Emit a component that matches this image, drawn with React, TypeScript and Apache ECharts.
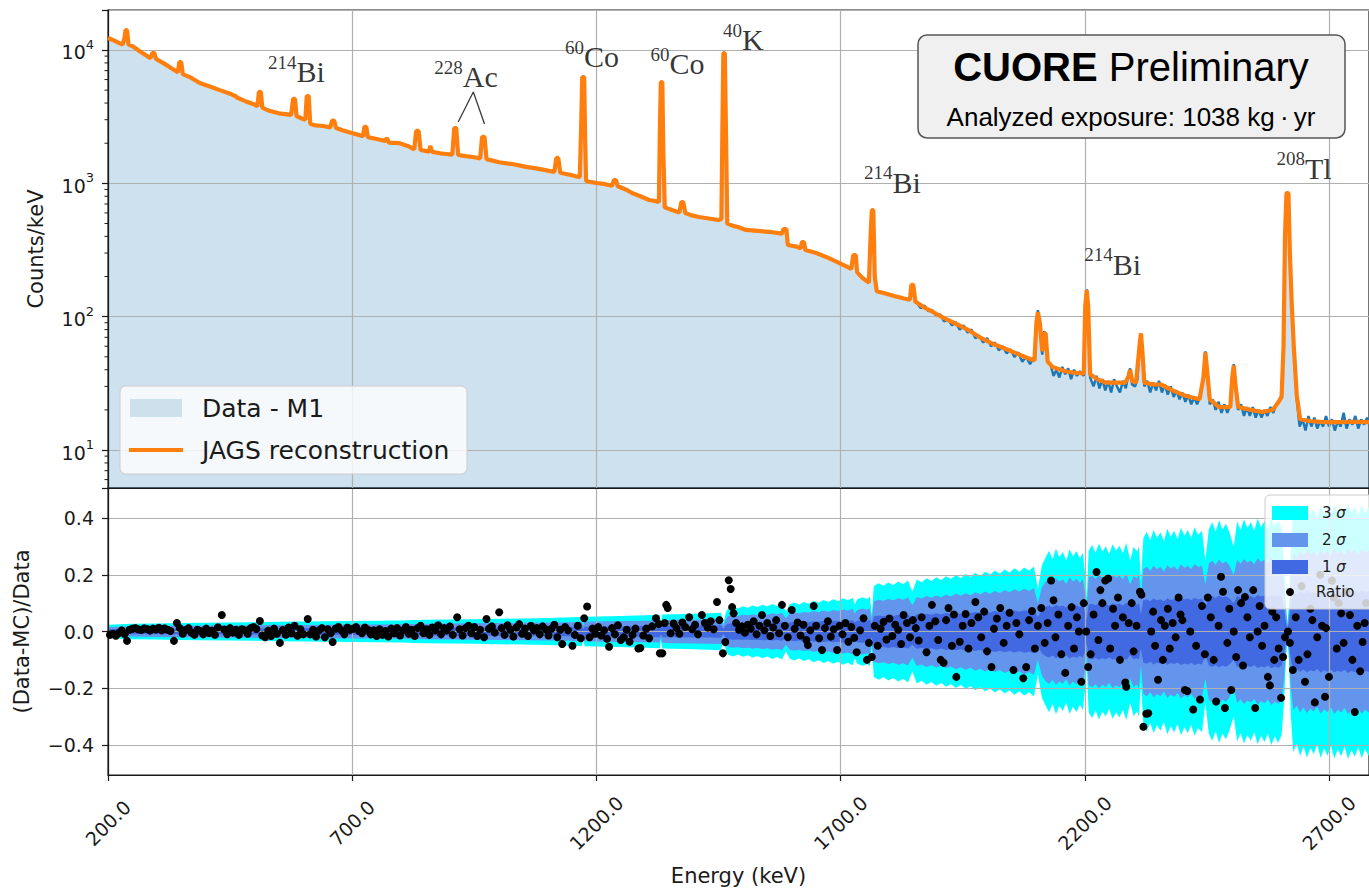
import React, { useEffect, useRef } from 'react';
import * as echarts from 'echarts';

const X_MIN = 200;
const X_MAX = 2782;
const xTicks = [200, 700, 1200, 1700, 2200, 2700];
const ratioTicks = [-0.4, -0.2, 0, 0.2, 0.4];
const logMinorTicks = [6, 7, 8, 9, 20, 30, 40, 50, 60, 70, 80, 90, 200, 300, 400, 500, 600, 700, 800, 900, 2000, 3000, 4000, 5000, 6000, 7000, 8000, 9000];

// shared part of spectrum (data and reconstruction overlap here) [keV, counts/keV]
const spectrumLow: [number, number][] = [
  [200, 12300], [210, 11900], [222, 11300], [230, 11000], [234, 12400], [236, 14100], [239, 14100], [242, 11000], [250, 10700],
  [265, 9800], [280, 9000], [287, 8700], [291, 9500], [295, 9500], [298, 8600], [315, 7900], [330, 7300], [343, 6800], [346, 8100],
  [350, 8100], [353, 6600], [370, 6200], [388, 5650], [410, 5300], [429, 5000], [450, 4700], [458, 4550], [461, 4520], [464, 4400],
  [480, 4150], [500, 3900], [506, 3780], [509, 4850], [513, 4850], [516, 3700], [530, 3500], [550, 3350], [575, 3260], [579, 4300],
  [583, 4300], [586, 3200], [598, 3050], [604, 3000], [607, 4520], [611, 4520], [614, 2800], [625, 2720], [640, 2690], [655, 2630],
  [659, 2960], [663, 2960], [667, 2600], [680, 2500], [699, 2385], [715, 2300], [722, 2250], [725, 2650], [729, 2650], [732, 2220],
  [750, 2150], [768, 2080], [771, 2190], [775, 2020], [797, 2000], [815, 1900], [827, 1800], [831, 2470], [836, 2470], [840, 1780],
  [850, 1750], [857, 1730], [860, 1900], [864, 1720], [880, 1680], [893, 1660], [905, 1640], [909, 2600], [913, 2600], [917, 1630],
  [933, 1600], [950, 1570], [962, 1540], [966, 2230], [971, 2230], [975, 1520], [1001, 1440], [1030, 1390], [1056, 1330], [1080, 1290],
  [1103, 1240], [1114, 1220], [1118, 1550], [1122, 1550], [1126, 1200], [1150, 1150], [1166, 1110], [1169, 2800], [1171, 6270],
  [1175, 6270], [1177, 2100], [1179, 1040], [1190, 1020], [1200, 1006], [1215, 990], [1232, 960], [1236, 1059], [1240, 1059],
  [1244, 950], [1260, 900], [1273, 846], [1290, 800], [1308, 750], [1322, 735], [1328, 724], [1330, 2500], [1332, 5750], [1335, 5750],
  [1337, 1800], [1340, 660], [1355, 630], [1370, 605], [1374, 724], [1378, 724], [1382, 600], [1395, 575], [1410, 559], [1430, 545],
  [1450, 531], [1456, 540], [1458, 2500], [1460, 9490], [1463, 9490], [1465, 3000], [1468, 500], [1480, 480], [1490, 470], [1506, 447],
  [1530, 440], [1560, 430], [1580, 420], [1583, 454], [1589, 454], [1592, 345], [1610, 335], [1618, 325], [1621, 363], [1625, 363],
  [1628, 316], [1650, 300], [1676, 275], [1700, 250], [1722, 228], [1726, 290], [1731, 290], [1734, 215], [1745, 195], [1758, 180],
  [1762, 450], [1764, 631], [1767, 631], [1770, 200], [1774, 155], [1790, 150], [1810, 143], [1830, 137], [1842, 134], [1845, 173],
  [1849, 173],
];

const modelHigh: [number, number][] = [
  [1853, 130], [1870, 118], [1890, 108], [1911, 98], [1940, 87], [1960, 80], [1985, 70], [2010, 63], [2035, 58], [2060, 53],
  [2083, 49], [2097, 47], [2101, 90], [2104, 108], [2108, 90], [2113, 55], [2117, 75], [2120, 75], [2124, 46], [2134, 42],
  [2160, 39], [2178, 38], [2198, 37.5], [2201, 120], [2204, 158], [2207, 120], [2211, 37], [2225, 34], [2244, 32], [2265, 32],
  [2283, 32], [2290, 36], [2293, 40], [2297, 33], [2305, 32], [2312, 60], [2315, 75], [2318, 55], [2322, 32], [2340, 31],
  [2356, 31], [2380, 28], [2400, 26], [2416, 25], [2435, 24], [2443, 35], [2447, 54], [2451, 38], [2456, 24], [2475, 21],
  [2498, 21], [2502, 35], [2505, 43], [2509, 30], [2514, 21], [2540, 20], [2563, 19.3], [2585, 20], [2597, 23], [2603, 25],
  [2607, 60], [2610, 400], [2613, 846], [2617, 846], [2620, 300], [2624, 120], [2628, 60], [2634, 26], [2641, 17], [2660, 16.5],
  [2690, 16.2], [2720, 16.2], [2750, 16.3], [2782, 16.2],
];

const dataHigh: [number, number][] = [
  [1853, 130], [1856, 128], [1864, 116], [1872, 121], [1880, 110], [1888, 112], [1896, 101], [1904, 104], [1912, 92], [1920, 96],
  [1928, 86], [1936, 91], [1944, 80], [1952, 86], [1960, 76], [1968, 80], [1976, 69], [1984, 72], [1992, 64], [2000, 69],
  [2008, 60], [2016, 64], [2024, 56], [2032, 60], [2040, 53], [2048, 57], [2056, 50], [2064, 54], [2072, 46], [2080, 50],
  [2088, 44], [2094, 48], [2098, 48], [2101, 92], [2104, 112], [2108, 88], [2113, 52], [2117, 78], [2120, 72], [2124, 46],
  [2130, 44], [2136, 36], [2142, 40], [2148, 35], [2154, 42], [2160, 37], [2166, 41], [2172, 34], [2178, 40], [2184, 36],
  [2190, 39], [2198, 36], [2201, 118], [2204, 160], [2207, 122], [2211, 35], [2218, 30], [2224, 36], [2230, 29], [2236, 34],
  [2242, 28], [2248, 33], [2254, 27], [2260, 34], [2266, 30], [2272, 27], [2278, 33], [2284, 29], [2290, 38], [2293, 41],
  [2297, 31], [2303, 30], [2308, 34], [2312, 62], [2315, 74], [2318, 56], [2322, 30], [2328, 33], [2334, 27], [2340, 32],
  [2346, 28], [2352, 33], [2358, 27], [2364, 31], [2370, 26], [2376, 30], [2382, 25], [2388, 28], [2394, 24], [2400, 27],
  [2406, 23], [2412, 26], [2418, 22], [2424, 25], [2430, 22], [2436, 25], [2443, 34], [2447, 55], [2451, 37], [2456, 22],
  [2462, 24], [2468, 20], [2474, 23], [2480, 19], [2486, 22], [2492, 19], [2498, 22], [2502, 34], [2505, 44], [2509, 29],
  [2514, 20], [2520, 22], [2526, 18], [2532, 21], [2538, 18], [2544, 21], [2550, 17.5], [2556, 20], [2562, 17.5], [2568, 20],
  [2574, 18], [2580, 21], [2586, 19], [2592, 22], [2597, 23], [2603, 26], [2607, 62], [2610, 410], [2613, 860], [2617, 840],
  [2620, 310], [2624, 115], [2628, 58], [2634, 24], [2640, 15], [2646, 17], [2652, 14], [2658, 18], [2664, 15], [2670, 17.5],
  [2676, 14.5], [2682, 16.5], [2688, 15], [2694, 18], [2700, 15], [2706, 17], [2712, 14], [2718, 16.5], [2724, 15], [2730, 19],
  [2736, 14.5], [2742, 17], [2748, 15.5], [2754, 18], [2760, 14.5], [2766, 17], [2772, 15.5], [2778, 17.5], [2782, 16],
];

// band half-widths: [keV, 3 sigma, 2 sigma, 1 sigma]
const bandRows: [number, number, number, number][] = [
  [200, 0.024, 0.016, 0.008], [250, 0.027, 0.018, 0.009], [300, 0.028, 0.019, 0.009], [350, 0.030, 0.020, 0.010],
  [400, 0.031, 0.021, 0.010], [450, 0.032, 0.021, 0.011], [500, 0.033, 0.022, 0.011], [550, 0.034, 0.023, 0.011],
  [600, 0.035, 0.023, 0.012], [650, 0.036, 0.024, 0.012], [700, 0.037, 0.025, 0.012], [750, 0.038, 0.025, 0.013],
  [800, 0.039, 0.026, 0.013], [850, 0.041, 0.027, 0.014], [900, 0.042, 0.028, 0.014], [950, 0.043, 0.029, 0.014],
  [1000, 0.045, 0.030, 0.015], [1050, 0.046, 0.031, 0.015], [1100, 0.048, 0.032, 0.016], [1150, 0.050, 0.033, 0.017],
  [1170, 0.051, 0.034, 0.017], [1173, 0.030, 0.020, 0.010], [1176, 0.052, 0.035, 0.017], [1200, 0.053, 0.035, 0.018],
  [1250, 0.055, 0.037, 0.018], [1300, 0.057, 0.038, 0.019], [1330, 0.059, 0.039, 0.020], [1332, 0.030, 0.020, 0.010],
  [1335, 0.060, 0.040, 0.020], [1360, 0.061, 0.041, 0.020], [1400, 0.063, 0.042, 0.021], [1430, 0.064, 0.043, 0.021],
  [1455, 0.066, 0.044, 0.022], [1460, 0.030, 0.020, 0.010], [1465, 0.066, 0.044, 0.022],
  [1470, 0.082, 0.055, 0.027], [1480, 0.088, 0.057, 0.029], [1490, 0.081, 0.055, 0.028], [1500, 0.089, 0.059, 0.029],
  [1510, 0.084, 0.057, 0.028], [1520, 0.092, 0.060, 0.030], [1530, 0.086, 0.058, 0.029], [1540, 0.094, 0.062, 0.031],
  [1550, 0.088, 0.059, 0.030], [1560, 0.097, 0.064, 0.032], [1570, 0.090, 0.061, 0.030], [1580, 0.099, 0.066, 0.033],
  [1588, 0.070, 0.047, 0.023], [1596, 0.096, 0.064, 0.032], [1605, 0.102, 0.068, 0.034], [1615, 0.095, 0.064, 0.032],
  [1625, 0.104, 0.069, 0.035], [1635, 0.098, 0.066, 0.033], [1645, 0.108, 0.072, 0.036], [1655, 0.101, 0.068, 0.034],
  [1665, 0.111, 0.074, 0.037], [1675, 0.104, 0.070, 0.035], [1685, 0.114, 0.076, 0.038], [1695, 0.107, 0.072, 0.036],
  [1705, 0.117, 0.078, 0.039], [1715, 0.110, 0.074, 0.037], [1725, 0.119, 0.080, 0.040], [1729, 0.095, 0.063, 0.032],
  [1734, 0.114, 0.076, 0.038], [1745, 0.121, 0.081, 0.040], [1755, 0.115, 0.077, 0.038], [1760, 0.123, 0.082, 0.041],
  [1764, 0.060, 0.040, 0.020], [1768, 0.160, 0.107, 0.053],
  [1778, 0.170, 0.112, 0.056], [1788, 0.161, 0.108, 0.054], [1798, 0.173, 0.115, 0.058], [1808, 0.164, 0.110, 0.055],
  [1818, 0.176, 0.117, 0.059], [1828, 0.167, 0.112, 0.056], [1838, 0.180, 0.120, 0.060], [1847, 0.140, 0.093, 0.047],
  [1856, 0.183, 0.122, 0.061], [1866, 0.174, 0.116, 0.058], [1876, 0.188, 0.125, 0.063], [1886, 0.178, 0.119, 0.059],
  [1896, 0.191, 0.127, 0.064], [1906, 0.181, 0.121, 0.060], [1916, 0.195, 0.130, 0.065], [1926, 0.185, 0.123, 0.062],
  [1936, 0.199, 0.133, 0.066], [1946, 0.188, 0.126, 0.063], [1956, 0.203, 0.135, 0.068], [1966, 0.192, 0.128, 0.064],
  [1976, 0.207, 0.138, 0.069], [1986, 0.196, 0.131, 0.065], [1996, 0.211, 0.141, 0.070], [2006, 0.200, 0.133, 0.067],
  [2016, 0.215, 0.143, 0.072], [2026, 0.204, 0.136, 0.068], [2036, 0.219, 0.146, 0.073], [2046, 0.207, 0.138, 0.069],
  [2056, 0.223, 0.149, 0.074], [2066, 0.211, 0.141, 0.070], [2076, 0.226, 0.151, 0.075], [2086, 0.214, 0.143, 0.071],
  [2096, 0.229, 0.153, 0.076], [2104, 0.150, 0.100, 0.050], [2112, 0.232, 0.155, 0.077],
  [2120, 0.262, 0.175, 0.087], [2127, 0.285, 0.185, 0.092], [2134, 0.255, 0.170, 0.085], [2141, 0.292, 0.188, 0.094],
  [2148, 0.262, 0.176, 0.088], [2155, 0.280, 0.184, 0.092], [2162, 0.250, 0.168, 0.084], [2169, 0.290, 0.190, 0.095],
  [2176, 0.265, 0.176, 0.088], [2183, 0.284, 0.186, 0.093], [2190, 0.258, 0.172, 0.086], [2196, 0.278, 0.184, 0.092],
  [2201, 0.200, 0.133, 0.067], [2204, 0.120, 0.080, 0.040], [2208, 0.285, 0.190, 0.095],
  [2215, 0.305, 0.196, 0.098], [2222, 0.278, 0.186, 0.093], [2229, 0.310, 0.200, 0.100], [2236, 0.282, 0.188, 0.094],
  [2243, 0.300, 0.196, 0.098], [2250, 0.272, 0.182, 0.091], [2257, 0.308, 0.200, 0.100], [2264, 0.285, 0.190, 0.095],
  [2271, 0.302, 0.197, 0.099], [2278, 0.276, 0.184, 0.092], [2285, 0.312, 0.203, 0.101], [2293, 0.250, 0.167, 0.083],
  [2300, 0.298, 0.195, 0.098], [2307, 0.282, 0.188, 0.094], [2311, 0.300, 0.200, 0.100], [2315, 0.180, 0.120, 0.060],
  [2320, 0.330, 0.220, 0.110],
  [2327, 0.352, 0.228, 0.114], [2334, 0.322, 0.214, 0.107], [2341, 0.358, 0.232, 0.116], [2348, 0.330, 0.220, 0.110],
  [2355, 0.350, 0.228, 0.114], [2362, 0.318, 0.212, 0.106], [2369, 0.362, 0.234, 0.117], [2376, 0.334, 0.222, 0.111],
  [2383, 0.355, 0.230, 0.115], [2390, 0.326, 0.217, 0.109], [2397, 0.366, 0.237, 0.118], [2404, 0.338, 0.225, 0.113],
  [2411, 0.358, 0.232, 0.116], [2418, 0.330, 0.220, 0.110], [2425, 0.368, 0.238, 0.119], [2432, 0.340, 0.227, 0.113],
  [2440, 0.355, 0.232, 0.116], [2447, 0.250, 0.167, 0.083], [2454, 0.360, 0.240, 0.120],
  [2461, 0.385, 0.250, 0.125], [2468, 0.352, 0.235, 0.118], [2475, 0.392, 0.254, 0.127], [2482, 0.360, 0.240, 0.120],
  [2489, 0.380, 0.248, 0.124], [2496, 0.350, 0.234, 0.117], [2505, 0.300, 0.200, 0.100], [2512, 0.388, 0.252, 0.126],
  [2519, 0.358, 0.239, 0.119], [2526, 0.395, 0.256, 0.128], [2533, 0.365, 0.243, 0.122], [2540, 0.385, 0.250, 0.125],
  [2547, 0.355, 0.237, 0.118], [2554, 0.398, 0.258, 0.129], [2561, 0.368, 0.245, 0.123], [2568, 0.390, 0.253, 0.127],
  [2575, 0.360, 0.240, 0.120], [2582, 0.400, 0.260, 0.130], [2589, 0.370, 0.247, 0.123], [2596, 0.392, 0.255, 0.128],
  [2603, 0.365, 0.243, 0.122], [2608, 0.250, 0.167, 0.083], [2612, 0.100, 0.067, 0.033], [2615, 0.030, 0.020, 0.010],
  [2618, 0.100, 0.067, 0.033], [2622, 0.300, 0.200, 0.100],
  [2627, 0.425, 0.275, 0.137], [2634, 0.395, 0.262, 0.131], [2641, 0.438, 0.285, 0.142], [2648, 0.405, 0.268, 0.134],
  [2655, 0.445, 0.288, 0.144], [2662, 0.410, 0.272, 0.136], [2669, 0.432, 0.282, 0.141], [2676, 0.398, 0.265, 0.132],
  [2683, 0.446, 0.290, 0.145], [2690, 0.412, 0.274, 0.137], [2697, 0.438, 0.285, 0.142], [2704, 0.402, 0.268, 0.134],
  [2711, 0.448, 0.291, 0.145], [2718, 0.415, 0.276, 0.138], [2725, 0.440, 0.286, 0.143], [2732, 0.405, 0.270, 0.135],
  [2739, 0.450, 0.292, 0.146], [2746, 0.418, 0.278, 0.139], [2753, 0.442, 0.287, 0.143], [2760, 0.408, 0.272, 0.136],
  [2767, 0.446, 0.290, 0.145], [2774, 0.414, 0.276, 0.138], [2782, 0.440, 0.286, 0.143],
];

// (Data-MC)/Data points [keV, ratio]
const ratioPoints: [number, number][] = [
  [204, -0.012], [210, -0.008], [216, -0.015], [222, -0.005], [228, 0.004], [234, -0.01], [239, -0.033], [244, 0.006], [250, 0.01],
  [256, 0.012], [262, 0.008], [268, 0.005], [274, 0.011], [280, 0.009], [286, 0.003], [292, 0.01], [298, 0.007], [304, 0.013],
  [310, 0.004], [316, 0.011], [322, 0.006], [328, 0.002], [335, -0.033], [341, 0.03], [347, 0.012], [353, -0.008], [359, 0.005],
  [365, 0.012], [371, -0.004], [377, -0.012], [383, 0.006], [389, 0.002], [395, -0.01], [401, 0.01], [407, -0.005], [413, 0.003],
  [419, -0.012], [425, 0.015], [433, 0.058], [438, 0.007], [444, -0.01], [450, 0.012], [456, -0.004], [462, 0.006], [468, -0.012],
  [474, 0.008], [480, 0.004], [486, -0.008], [492, 0.012], [498, 0.016], [504, 0.009], [511, 0.037], [516, -0.014], [522, -0.02],
  [528, 0.003], [534, -0.016], [540, 0.01], [546, -0.008], [552, -0.04], [558, 0.005], [564, -0.012], [570, 0.014], [576, -0.006],
  [582, 0.02], [588, -0.015], [594, 0.008], [600, -0.01], [609, 0.044], [614, -0.01], [620, 0.006], [626, -0.018], [632, 0.004],
  [638, 0.012], [644, -0.02], [650, 0.008], [656, -0.006], [660, -0.037], [666, 0.01], [672, 0.016], [678, 0.004], [684, -0.01],
  [690, 0.014], [696, 0.006], [702, 0.01], [708, 0.016], [714, 0.002], [720, -0.006], [726, 0.014], [732, 0.006], [738, -0.01],
  [744, 0.004], [750, -0.016], [756, 0.008], [762, -0.012], [768, 0.002], [774, -0.018], [780, 0.01], [786, -0.006], [792, 0.012],
  [798, -0.014], [804, 0.004], [810, 0.016], [816, -0.008], [822, 0.006], [828, -0.016], [834, 0.012], [840, 0.02], [846, -0.006],
  [852, 0.008], [858, -0.012], [864, 0.014], [870, 0.004], [876, 0.022], [882, -0.01], [888, 0.012], [894, 0.004], [900, 0.018],
  [906, -0.012], [915, 0.05], [920, 0.008], [926, -0.014], [932, 0.012], [938, 0.02], [944, -0.006], [950, 0.016], [956, -0.016],
  [962, 0.006], [970, -0.02], [975, 0.044], [980, 0.01], [986, 0.018], [992, -0.004], [1001, 0.068], [1006, 0.012], [1012, -0.012],
  [1018, 0.022], [1024, 0.006], [1030, -0.018], [1036, 0.014], [1042, 0.026], [1048, -0.008], [1054, 0.01], [1060, -0.016],
  [1066, 0.02], [1072, 0.004], [1078, 0.012], [1084, -0.01], [1090, 0.018], [1096, 0.008], [1102, -0.014], [1108, 0.01],
  [1114, 0.024], [1120, -0.02], [1126, 0.006], [1130, -0.044], [1136, 0.016], [1142, 0.004], [1151, -0.05], [1156, -0.012],
  [1162, 0.02], [1168, -0.024], [1175, 0.047], [1181, 0.088], [1186, -0.02], [1192, 0.01], [1198, -0.008],
  [1204, 0.016], [1210, -0.014], [1216, 0.004], [1222, -0.026], [1226, -0.054], [1232, 0.012], [1238, -0.01], [1244, 0.022],
  [1250, -0.03], [1256, -0.02], [1262, 0.006], [1268, -0.036], [1274, -0.012], [1280, 0.01], [1286, -0.06], [1290, -0.058],
  [1296, -0.014], [1302, 0.01], [1308, -0.024], [1314, 0.018], [1322, 0.047], [1328, 0.026], [1330, -0.077], [1335, -0.077],
  [1340, 0.03], [1343, 0.094], [1346, 0.083], [1352, -0.006], [1358, 0.028], [1364, 0.012], [1370, -0.008], [1376, 0.032],
  [1382, 0.016], [1390, 0.05], [1396, 0.008], [1402, 0.024], [1408, -0.01], [1416, 0.058], [1422, 0.03], [1428, 0.014],
  [1434, 0.036], [1440, 0.008], [1447, 0.104], [1452, 0.04], [1459, -0.077], [1464, -0.037], [1471, 0.181], [1475, 0.15],
  [1478, 0.086], [1481, 0.064], [1486, 0.03], [1492, 0.006], [1498, 0.018],
  [1504, -0.004], [1510, 0.024], [1516, 0.01], [1522, 0.036], [1528, -0.01], [1534, 0.02], [1539, 0.058], [1544, 0.004],
  [1550, 0.03], [1556, -0.016], [1562, 0.014], [1568, 0.04], [1574, -0.006], [1580, 0.094], [1586, 0.02], [1592, -0.02],
  [1600, 0.076], [1606, 0.01], [1612, 0.032], [1618, -0.014], [1624, 0.024], [1630, -0.03], [1633, -0.048], [1638, 0.004],
  [1645, 0.09], [1650, 0.02], [1656, -0.024], [1662, -0.065], [1668, 0.012], [1674, 0.036], [1680, -0.018], [1686, 0.008],
  [1693, -0.065], [1698, 0.02], [1704, -0.01], [1710, 0.03], [1716, -0.036], [1722, 0.016], [1728, -0.022], [1733, -0.073],
  [1740, 0.004], [1747, 0.047], [1754, -0.1], [1758, -0.04], [1764, -0.09], [1770, 0.02], [1776, -0.05], [1782, 0.01],
  [1788, 0.034], [1794, -0.028],
  [1800, 0.046], [1806, -0.016], [1812, 0.024], [1818, 0.006], [1824, -0.044], [1829, 0.058], [1836, 0.03], [1842, -0.02],
  [1848, 0.04], [1854, 0.012], [1860, -0.032], [1866, 0.05], [1876, -0.073], [1882, 0.02], [1887, 0.094], [1894, 0.036],
  [1900, -0.03], [1905, -0.1], [1911, -0.11], [1916, 0.04], [1921, 0.083], [1928, -0.05], [1932, 0.06], [1937, -0.16],
  [1944, -0.036], [1950, 0.02], [1956, 0.062], [1962, -0.06], [1968, 0.03], [1976, 0.104], [1982, 0.05], [1988, -0.02],
  [1994, 0.07], [2000, -0.07], [2009, -0.125], [2014, 0.01], [2020, 0.046], [2027, 0.083], [2034, -0.04], [2040, 0.02],
  [2046, 0.066], [2054, -0.136], [2060, 0.03], [2066, -0.01], [2074, -0.165], [2080, -0.125], [2086, 0.04], [2092, 0.072],
  [2098, -0.06], [2104, 0.02],
  [2111, 0.083], [2118, -0.04], [2124, 0.03], [2131, 0.18], [2136, 0.11], [2140, -0.02], [2146, 0.06], [2152, -0.08],
  [2160, -0.146], [2166, 0.02], [2173, 0.086], [2178, -0.06], [2184, 0.05], [2188, 0.0], [2193, -0.177], [2198, 0.1],
  [2203, 0.0], [2207, -0.125], [2212, -0.08], [2218, 0.06], [2224, 0.21], [2228, -0.03], [2232, 0.146], [2236, 0.1],
  [2242, 0.18], [2248, 0.187], [2252, -0.06], [2258, 0.08], [2262, 0.02], [2268, 0.12], [2272, -0.1], [2278, 0.05],
  [2283, -0.18], [2285, -0.195], [2290, 0.03], [2296, 0.1], [2300, -0.07], [2306, 0.02], [2313, 0.14], [2316, 0.13],
  [2320, -0.336], [2326, -0.29], [2330, -0.288], [2336, 0.0], [2340, 0.07], [2344, -0.05], [2350, -0.17], [2356, 0.04],
  [2360, -0.1], [2364, 0.02], [2370, 0.08], [2374, -0.06], [2380, 0.03], [2386, -0.02], [2392, 0.12], [2396, 0.06],
  [2400, 0.04], [2405, -0.206], [2410, -0.21], [2416, 0.0], [2422, -0.275], [2428, -0.05], [2436, -0.24], [2440, 0.09],
  [2446, -0.08], [2452, 0.12], [2458, 0.05], [2464, -0.1], [2469, -0.247], [2474, 0.02], [2479, 0.193], [2483, 0.14],
  [2487, -0.27], [2492, -0.04], [2496, 0.08], [2500, -0.206], [2505, 0.0], [2510, -0.09], [2514, 0.146], [2520, 0.1],
  [2524, -0.12], [2528, 0.122], [2533, 0.05], [2538, -0.02], [2545, 0.146], [2549, -0.27], [2554, 0.0], [2558, 0.09],
  [2563, -0.05], [2568, 0.02], [2575, -0.16], [2579, -0.19], [2584, 0.07], [2588, -0.1], [2592, 0.05], [2597, -0.06],
  [2602, -0.234], [2606, -0.09], [2610, -0.02], [2616, 0.0], [2620, -0.04], [2626, -0.136], [2632, 0.05], [2638, -0.1],
  [2644, 0.16], [2651, -0.177], [2656, -0.08], [2662, 0.08], [2666, 0.04], [2671, -0.25], [2676, -0.02], [2682, 0.2],
  [2686, 0.02], [2692, -0.23], [2694, 0.012], [2700, -0.16], [2706, 0.18], [2710, 0.12], [2716, -0.06], [2720, 0.1],
  [2725, 0.064], [2730, -0.04], [2736, 0.14], [2743, 0.058], [2748, -0.1], [2753, -0.284], [2758, 0.02], [2764, -0.14],
  [2769, -0.037], [2773, 0.03], [2776, 0.1],
];

// isotope annotations (position in data coordinates)
const peakLabels = [
  { mass: '214', el: 'Bi', e: 586, c: 7079 },
  { mass: '228', el: 'Ac', e: 933, c: 6494 },
  { mass: '60', el: 'Co', e: 1191, c: 9173 },
  { mass: '60', el: 'Co', e: 1366, c: 8128 },
  { mass: '40', el: 'K', e: 1501, c: 12303 },
  { mass: '214', el: 'Bi', e: 1806, c: 1059 },
  { mass: '214', el: 'Bi', e: 2257, c: 257 },
  { mass: '208', el: 'Tl', e: 2649, c: 1349 },
];
const acPointer: [number, number][] = [[917, 2884], [948, 4842], [971, 2786]];

const SANS = 'DejaVu Sans';
const TXT = '#1a1a1a';
const GRIDC = '#b0b0b0';

function leftText(x: number, y: number, text: string, size: number, extra: any = {}) {
  return {
    type: 'text', x, y, z: 101,
    style: { text, fontSize: size, fontFamily: SANS, fill: TXT, align: 'left', verticalAlign: 'middle', textAlign: 'left', textVerticalAlign: 'middle', ...extra },
  };
}

function buildOption() {
  const dataSeries = [...spectrumLow, ...dataHigh];
  const modelSeries = [...spectrumLow, ...modelHigh];
  const bandColors = ['#00ffff', '#6495ed', '#4169e1'];
  const bandSeries: any[] = [];
  [1, 2, 3].forEach((col, k) => {
    [1, -1].forEach((sgn) => {
      bandSeries.push({
        type: 'line', xAxisIndex: 1, yAxisIndex: 1, z: 2, silent: true, symbol: 'none',
        data: bandRows.map((r) => [r[0], sgn * r[col]]),
        lineStyle: { width: 0 },
        areaStyle: { color: bandColors[k], opacity: 1 },
      });
    });
  });

  const axisLineStyle = { color: TXT, width: 1.2 };
  const sigmaRows: [string, number][] = [['3', 513], ['2', 540], ['1', 567]];
  return {
    animation: false,
    backgroundColor: '#ffffff',
    grid: [
      { left: 108, right: -3, top: 10, height: 478, show: true, borderColor: TXT, borderWidth: 1.2 },
      { left: 108, right: -3, top: 488, height: 287, show: true, borderColor: TXT, borderWidth: 1.2 },
    ],
    xAxis: [
      {
        type: 'value', gridIndex: 0, min: X_MIN, max: X_MAX, z: 3,
        axisLine: { show: true, onZero: false, lineStyle: axisLineStyle },
        axisTick: { show: false, customValues: xTicks },
        axisLabel: { show: false, customValues: xTicks },
        splitLine: { show: true, lineStyle: { color: GRIDC, width: 1.2 } },
      },
      {
        type: 'value', gridIndex: 1, min: X_MIN, max: X_MAX, z: 3,
        axisLine: { show: true, onZero: false, lineStyle: axisLineStyle },
        axisTick: { show: true, customValues: xTicks, length: 6, lineStyle: axisLineStyle },
        axisLabel: {
          customValues: xTicks, formatter: (v: number) => v.toFixed(1), rotate: 45, align: 'center', verticalAlign: 'middle',
          margin: 48, fontSize: 19, fontFamily: SANS, color: TXT,
        },
        splitLine: { show: true, lineStyle: { color: GRIDC, width: 1.2 } },
        name: 'Energy (keV)', nameLocation: 'middle', nameGap: 90,
        nameTextStyle: { fontSize: 21, fontFamily: SANS, color: TXT },
      },
    ],
    yAxis: [
      {
        type: 'log', gridIndex: 0, min: 5.19, max: 19950, logBase: 10, z: 3,
        axisLine: { show: true, onZero: false, lineStyle: axisLineStyle },
        axisTick: { show: true, length: 6, lineStyle: axisLineStyle },
        axisLabel: {
          fontSize: 19, fontFamily: SANS, color: TXT, margin: 14,
          formatter: (v: number) => {
            const l = Math.log10(v);
            const e = Math.round(l);
            if (Math.abs(l - e) > 1e-6) return '';
            return `{b|10}{s|${e}}`;
          },
          rich: {
            b: { fontSize: 19, fontFamily: SANS, color: TXT, verticalAlign: 'bottom', lineHeight: 24 },
            s: { fontSize: 13, fontFamily: SANS, color: TXT, verticalAlign: 'top', lineHeight: 13 },
          },
        },
        splitLine: { show: true, lineStyle: { color: GRIDC, width: 1.2 } },
        name: 'Counts/keV', nameLocation: 'middle', nameGap: 62,
        nameTextStyle: { fontSize: 21, fontFamily: SANS, color: TXT },
      },
      {
        type: 'value', gridIndex: 1, min: -0.506, max: 0.506, z: 3,
        axisLine: { show: true, onZero: false, lineStyle: axisLineStyle },
        axisTick: { show: true, customValues: ratioTicks, length: 6, lineStyle: axisLineStyle },
        axisLabel: {
          customValues: ratioTicks, fontSize: 19, fontFamily: SANS, color: TXT, margin: 14,
          formatter: (v: number) => (v < -1e-9 ? '\u2212' : '') + Math.abs(v).toFixed(1),
        },
        splitLine: { show: true, lineStyle: { color: GRIDC, width: 1.2 } },
        name: '(Data-MC)/Data', nameLocation: 'middle', nameGap: 76,
        nameTextStyle: { fontSize: 21, fontFamily: SANS, color: TXT },
      },
    ],
    series: [
      {
        type: 'line', xAxisIndex: 0, yAxisIndex: 0, z: 2, symbol: 'none', silent: true,
        data: dataSeries,
        lineStyle: { color: '#1f77b4', width: 2.5 },
        areaStyle: { color: 'rgba(31,119,180,0.22)', opacity: 1 },
      },
      {
        type: 'line', xAxisIndex: 0, yAxisIndex: 0, z: 5, symbol: 'none', silent: true,
        data: modelSeries,
        lineStyle: { color: '#ff7f0e', width: 4.2 },
      },
      {
        type: 'line', xAxisIndex: 0, yAxisIndex: 0, z: 6, symbol: 'none', silent: true,
        data: acPointer,
        lineStyle: { color: '#3a3a3a', width: 1.3 },
      },
      {
        type: 'scatter', xAxisIndex: 0, yAxisIndex: 0, z: 7, silent: true, symbolSize: 1,
        itemStyle: { color: 'rgba(0,0,0,0)' },
        data: peakLabels.map((p) => ({ value: [p.e, p.c], label: { formatter: `{s|${p.mass}}{n|${p.el}}` } })),
        label: {
          show: true, position: 'inside',
          rich: {
            s: { fontSize: 19, fontFamily: 'Liberation Serif', color: '#000', verticalAlign: 'top', lineHeight: 20 },
            n: { fontSize: 30, fontFamily: 'Liberation Serif', color: '#000', verticalAlign: 'bottom', lineHeight: 34 },
          },
        },
      },
      {
        type: 'custom', xAxisIndex: 0, yAxisIndex: 0, z: 6, silent: true, clip: false,
        data: logMinorTicks.map((v) => [X_MIN, v]),
        renderItem: (_p: any, api: any) => {
          const pt = api.coord([api.value(0), api.value(1)]);
          return {
            type: 'line',
            shape: { x1: pt[0] - 3.5, y1: pt[1], x2: pt[0], y2: pt[1] },
            style: { stroke: TXT, lineWidth: 1 },
          };
        },
      },
      ...bandSeries,
      {
        type: 'scatter', xAxisIndex: 1, yAxisIndex: 1, z: 4, silent: true,
        data: ratioPoints, symbolSize: 8, itemStyle: { color: '#000', opacity: 1 },
      },
    ],
    graphic: [
      // top legend
      { type: 'rect', z: 100, shape: { x: 120, y: 386, width: 347, height: 88, r: 6 }, style: { fill: 'rgba(255,255,255,0.8)', stroke: '#cccccc', lineWidth: 1 } },
      { type: 'rect', z: 101, shape: { x: 130, y: 399, width: 52, height: 18 }, style: { fill: '#cde0ec' } },
      { type: 'line', z: 101, shape: { x1: 129, y1: 450, x2: 183, y2: 450 }, style: { stroke: '#ff7f0e', lineWidth: 4 } },
      leftText(202, 408, 'Data - M1', 25),
      leftText(202, 450, 'JAGS reconstruction', 25),
      // CUORE box
      { type: 'rect', z: 100, shape: { x: 918, y: 35, width: 427, height: 103, r: 9 }, style: { fill: '#f0f0f0', stroke: '#555555', lineWidth: 1.5 } },
      {
        type: 'text', x: 1131, y: 67, z: 101,
        style: {
          text: '{b|CUORE}{r| Preliminary}', align: 'center', verticalAlign: 'middle', textAlign: 'center', textVerticalAlign: 'middle',
          rich: {
            b: { fontSize: 40, fontWeight: 'bold', fontFamily: 'Liberation Sans', fill: '#000', color: '#000' },
            r: { fontSize: 40, fontFamily: 'Liberation Sans', fill: '#000', color: '#000' },
          },
        },
      },
      {
        type: 'text', x: 1131, y: 117, z: 101,
        style: { text: 'Analyzed exposure: 1038 kg\u2009·\u2009yr', fontSize: 26, fontFamily: 'Liberation Sans', fill: '#000', align: 'center', verticalAlign: 'middle', textAlign: 'center', textVerticalAlign: 'middle' },
      },
      // bottom legend
      { type: 'rect', z: 100, shape: { x: 1265, y: 495, width: 112, height: 114, r: 5 }, style: { fill: 'rgba(255,255,255,0.8)', stroke: '#cccccc', lineWidth: 1 } },
      { type: 'rect', z: 101, shape: { x: 1272, y: 506, width: 36, height: 14 }, style: { fill: '#00ffff' } },
      { type: 'rect', z: 101, shape: { x: 1272, y: 533, width: 36, height: 14 }, style: { fill: '#6495ed' } },
      { type: 'rect', z: 101, shape: { x: 1272, y: 560, width: 36, height: 14 }, style: { fill: '#4169e1' } },
      { type: 'circle', z: 101, shape: { cx: 1290, cy: 592, r: 4 }, style: { fill: '#000' } },
      ...sigmaRows.map(([n, y]) => ({
        type: 'text', x: 1322, y, z: 101,
        style: {
          text: `{n|${n} }{i|σ}`, align: 'left', verticalAlign: 'middle', textAlign: 'left', textVerticalAlign: 'middle',
          rich: {
            n: { fontSize: 15, fontFamily: SANS, fill: TXT, color: TXT },
            i: { fontSize: 15, fontFamily: SANS, fontStyle: 'italic', fill: TXT, color: TXT },
          },
        },
      })),
      leftText(1316, 592, 'Ratio', 15),
    ],
  };
}

export default function App() {
  const ref = useRef<HTMLDivElement>(null);
  useEffect(() => {
    if (!ref.current) return;
    const chart = echarts.init(ref.current, null, { renderer: 'svg' });
    chart.setOption(buildOption() as any);
    return () => chart.dispose();
  }, []);
  return (
    <div
      ref={ref}
      style={{ position: 'fixed', left: 0, top: 0, width: 1369, height: 888, background: '#ffffff' }}
    />
  );
}
